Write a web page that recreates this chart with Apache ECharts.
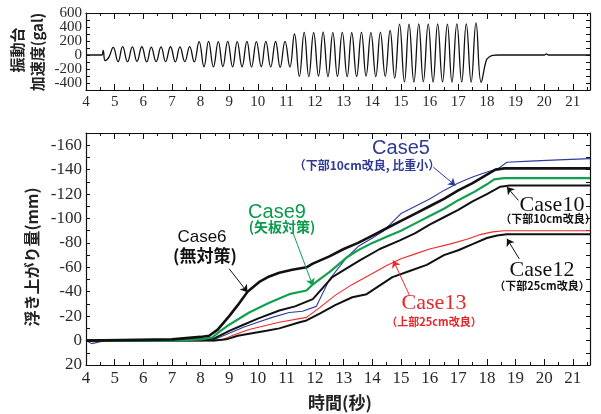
<!DOCTYPE html>
<html>
<head>
<meta charset="utf-8">
<script src="https://cdn.jsdelivr.net/npm/echarts@6/dist/echarts.min.js"></script>
<style>
  html, body { margin: 0; padding: 0; background: #fff; }
  #chart { width: 601px; height: 414px; }
</style>
</head>
<body>
<div id="chart"></div>
<script>
// 振動台加速度 (gal) -- peaks/troughs
var accTime = [4.0, 4.55, 4.6, 4.67, 4.8,
  4.95, 5.12, 5.28, 5.45, 5.62, 5.78, 5.95, 6.12, 6.28, 6.45, 6.62, 6.78, 6.95, 7.12, 7.28, 7.45, 7.62, 7.78,
  7.95, 8.12, 8.28, 8.45, 8.62, 8.78, 8.95, 9.12, 9.28, 9.45, 9.62, 9.78, 9.95, 10.12, 10.28, 10.45, 10.62, 10.78, 10.95, 11.12,
  11.28, 11.45, 11.62, 11.78, 11.95, 12.12, 12.28, 12.45, 12.62, 12.78, 12.95, 13.12, 13.28, 13.45, 13.62, 13.78, 13.95, 14.12, 14.28, 14.45, 14.62, 14.78,
  14.95, 15.12, 15.28, 15.45, 15.62, 15.78, 15.95, 16.12, 16.28, 16.45, 16.62, 16.78, 16.95, 17.12, 17.28, 17.45, 17.62, 17.8,
  17.98, 18.08, 18.2, 18.4, 20.0, 20.08, 20.15, 21.6];
var accValue = [0, 0, 65, -80, -30,
  110, -95, 120, -96, 115, -92, 118, -98, 112, -95, 116, -94, 118, -97, 115, -95, 120, -98,
  190, -168, 195, -170, 192, -166, 196, -170, 190, -168, 194, -172, 192, -168, 196, -170, 193, -175, 195, -172,
  300, -305, 322, -310, 318, -300, 325, -308, 320, -305, 322, -310, 318, -306, 324, -300, 320, -308, 322, -304, 350, -330,
  440, -385, 442, -388, 445, -382, 440, -386, 446, -384, 442, -388, 445, -385, 444, -386, 460, -390,
  -75, -30, -5, 0, 0, 15, 0, 0];

// 浮き上がり量 (mm), [time, value]
var case6 = [[4, 0], [7, -1], [8, -3], [8.3, -4], [8.6, -9], [9.0, -20], [9.3, -29], [9.64, -40], [10.05, -48],
  [10.4, -52.5], [10.75, -55.5], [11.2, -58], [11.7, -60], [11.92, -63], [12.5, -69], [13, -75], [13.5, -80],
  [14, -86], [14.5, -92], [15, -98], [15.5, -104], [16, -110], [16.5, -116], [17, -123], [17.5, -129],
  [18, -136], [18.3, -140], [18.6, -141], [21.6, -141]];
var case9 = [[4, 0], [7, 0], [8, -1], [8.4, -2.5], [8.7, -8], [9, -13], [9.7, -23], [10.4, -31], [11.1, -38],
  [11.7, -41], [11.92, -46], [12.5, -56], [13.1, -68], [13.5, -74], [14, -80], [14.5, -85], [15, -90],
  [15.5, -96], [16, -102], [16.5, -108], [17, -115], [17.5, -121], [18, -128], [18.25, -132], [18.6, -133], [21.6, -133]];
var case5 = [[4, 0], [4.2, 2.5], [4.5, 1], [4.8, 0], [7, 0], [8, 0], [8.5, -1], [9, -6], [9.5, -11], [10, -15],
  [10.5, -19], [11.1, -23], [11.56, -24], [12.04, -28], [12.5, -50], [13.1, -68], [13.5, -77], [14, -84],
  [14.4, -90], [15, -104], [15.5, -110], [16, -116], [16.5, -123], [17, -129], [17.5, -134], [18, -138],
  [18.4, -141], [18.7, -146], [19.5, -147], [20.5, -148], [21.6, -149]];
var case10 = [[4, 0], [7, 0], [8, -1], [8.5, -2], [9, -8], [9.5, -13], [10, -18], [10.75, -24.6], [11.3, -28],
  [11.92, -34], [12.6, -52], [13.56, -65.6], [14.26, -75], [14.96, -82], [15.5, -88], [16, -95], [16.5, -101],
  [17, -107], [17.5, -114], [18, -120], [18.47, -126], [18.8, -127], [21.6, -127]];
var case13 = [[4, 0], [8.5, 0], [8.8, -1], [9.2, -5], [9.7, -9], [10.2, -12], [10.75, -15], [11.7, -19],
  [12.16, -27], [12.7, -37], [13.3, -46], [14, -55], [14.5, -61.5], [15, -67], [15.5, -71], [16, -75],
  [16.7, -79], [17.3, -83], [17.8, -87], [18.2, -89], [18.6, -90], [21.6, -90]];
var case12 = [[4, 0], [8.5, 0], [8.9, -1], [9.3, -4], [9.8, -6], [10.3, -8], [10.75, -10], [11.46, -15],
  [11.7, -16.5], [12.16, -22], [12.7, -29], [13.3, -35.5], [13.8, -38], [14.7, -52], [15.3, -57], [15.9, -62],
  [16.5, -70], [17, -74], [17.5, -79], [18, -84], [18.36, -86], [18.7, -87], [21.6, -87]];

// arrows: [from, to]
var arrow6 = [[9.0, -58.8], [9.64, -39.6]];
var arrow9 = [[11.22, -88.8], [11.92, -45]];
var arrow5 = [[16.13, -142], [16.9, -127]];
var arrow10 = [[19.1, -114.8], [18.7, -125.7]];
var arrow12 = [[19.13, -66.9], [18.7, -83.4]];
var arrow13 = [[15.3, -36.9], [14.73, -65.6]];

var accData = accTime.map(function (t, i) { return [t, accValue[i]]; });

var serif = '"Liberation Serif", "Times New Roman", serif';
var sans = '"Liberation Sans", Arial, sans-serif';
var cjk = '"Noto Sans CJK JP", sans-serif';

function xAxisCfg(grid, pos, labelSize) {
  return {
    type: 'value', gridIndex: grid, position: pos, min: 4, max: 21.6, interval: 1,
    axisLine: { show: true, onZero: false, lineStyle: { color: '#111', width: 1.2 } },
    axisTick: { show: true, inside: true, length: 6, lineStyle: { color: '#111' } },
    minorTick: { show: true, splitNumber: 2, length: 3, lineStyle: { color: '#111' } },
    splitLine: { show: false },
    axisLabel: {
      show: pos === 'bottom', margin: 5, color: '#2a2a2a', fontFamily: serif, fontSize: labelSize,
      formatter: function (v) { return v % 1 === 0 ? String(v) : ''; }
    }
  };
}

function yAxisCfg(grid, pos, min, max, interval, step, inverse, labelSize, lowLimit) {
  return {
    type: 'value', gridIndex: grid, position: pos, min: min, max: max, interval: interval, inverse: inverse,
    axisLine: { show: true, onZero: false, lineStyle: { color: '#111', width: 1.2 } },
    axisTick: { show: true, inside: true, length: 4, lineStyle: { color: '#111' } },
    splitLine: { show: false },
    axisLabel: {
      show: pos === 'left', margin: 4, color: '#2a2a2a', fontFamily: serif, fontSize: labelSize,
      formatter: function (v) { return (v % step === 0 && v >= lowLimit) ? String(v) : ''; }
    }
  };
}

function arrowLine(a, color) {
  return {
    silent: true, symbol: ['none', 'arrow'], symbolSize: 7,
    lineStyle: { color: color, width: 1, type: 'solid' },
    label: { show: false },
    data: [[{ coord: a[0] }, { coord: a[1] }]]
  };
}

function dispSeries(name, data, color, width, arrow) {
  return {
    name: name, type: 'line', xAxisIndex: 2, yAxisIndex: 2, data: data,
    showSymbol: false, smooth: false,
    lineStyle: { color: color, width: width },
    markLine: arrowLine(arrow, color)
  };
}

function label(text, x, y, font, color, rot) {
  return {
    type: 'text', x: x, y: y, rotation: rot || 0,
    style: { text: text, font: font, fill: color, align: 'center', verticalAlign: 'middle' }
  };
}

var chart = echarts.init(document.getElementById('chart'));
chart.setOption({
  animation: false,
  backgroundColor: '#fff',
  grid: [
    { left: 86, right: 11, top: 13, height: 77 },
    { left: 86, right: 11, top: 133, height: 232 }
  ],
  xAxis: [
    xAxisCfg(0, 'bottom', 15), xAxisCfg(0, 'top', 15),
    xAxisCfg(1, 'bottom', 17), xAxisCfg(1, 'top', 17)
  ],
  yAxis: [
    yAxisCfg(0, 'left', -500, 600, 100, 200, false, 15, -400),
    yAxisCfg(0, 'right', -500, 600, 100, 200, false, 15, -400),
    yAxisCfg(1, 'left', -170, 20, 10, 20, true, 17, -170),
    yAxisCfg(1, 'right', -170, 20, 10, 20, true, 17, -170)
  ],
  series: [
    {
      type: 'line', xAxisIndex: 0, yAxisIndex: 0, data: accData,
      showSymbol: false, smooth: 0.45,
      lineStyle: { color: '#111', width: 1.3 }
    },
    dispSeries('Case13', case13, '#ee2a2a', 1.1, arrow13),
    dispSeries('Case5', case5, '#2e3a9e', 1.1, arrow5),
    dispSeries('Case12', case12, '#111', 2, arrow12),
    dispSeries('Case10', case10, '#111', 2, arrow10),
    dispSeries('Case9', case9, '#10a050', 2.2, arrow9),
    dispSeries('Case6', case6, '#111', 2.6, arrow6)
  ],
  graphic: [
    label('振動台', 17, 50, 'bold 15px ' + cjk, '#222', Math.PI / 2),
    label('加速度(gal)', 37, 52, 'bold 15px ' + cjk, '#222', Math.PI / 2),
    label('浮き上がり量(mm)', 32, 257, 'bold 16px ' + cjk, '#222', Math.PI / 2),
    label('時間(秒)', 340, 403, 'bold 17px ' + cjk, '#222'),
    label('Case5', 401, 148, '20px ' + sans, '#2e3a96'),
    label('（下部10cm改良, 比重小）', 367, 165, 'bold 12px ' + cjk, '#2e3a96'),
    label('Case9', 277, 212, '20px ' + sans, '#0c9a4c'),
    label('(矢板対策)', 282, 227, 'bold 14px ' + cjk, '#0c9a4c'),
    label('Case6', 202, 237, '17px ' + sans, '#111'),
    label('(無対策)', 205, 256, 'bold 17px ' + cjk, '#111'),
    label('Case10', 552, 205, '22px ' + serif, '#111'),
    label('（下部10cm改良）', 548, 219, 'bold 11px ' + cjk, '#111'),
    label('Case12', 542, 270, '22px ' + serif, '#111'),
    label('（下部25cm改良）', 542, 286, 'bold 11px ' + cjk, '#111'),
    label('Case13', 434, 303, '22px ' + serif, '#e8262b'),
    label('（上部25cm改良）', 434, 322, 'bold 11px ' + cjk, '#e8262b')
  ]
});
</script>
</body>
</html>
